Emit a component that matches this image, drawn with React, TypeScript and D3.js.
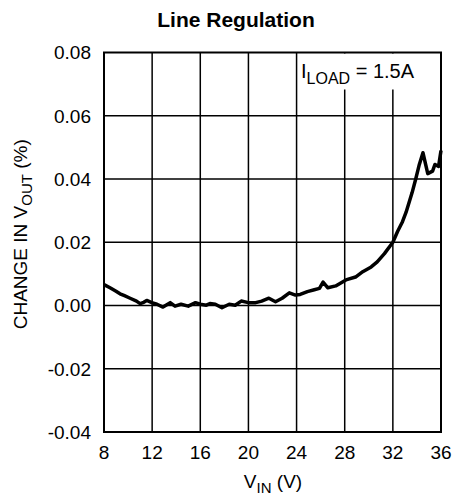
import React from "react";
import * as d3 from "d3";

const vin: number[] = [8.0, 8.5, 9.0, 9.33, 9.7, 10.17, 10.7, 11.0, 11.3, 11.55, 11.97, 12.4, 12.9, 13.5, 13.9, 14.4, 15.0, 15.6, 16.0, 16.5, 16.8, 17.25, 17.8, 18.4, 18.9, 19.4, 20.0, 20.6, 21.1, 21.7, 22.25, 22.8, 23.4, 23.9, 24.3, 24.9, 25.4, 25.9, 26.2, 26.6, 27.25, 28.1, 28.9, 29.5, 30.2, 30.7, 31.3, 31.8, 32.0, 32.4, 32.8, 33.1, 33.6, 33.9, 34.2, 34.5, 34.9, 35.3, 35.5, 35.8, 36.0];
const dvout: number[] = [0.0066, 0.0056, 0.0045, 0.0037, 0.0031, 0.0023, 0.0014, 0.0006, 0.0010, 0.0016, 0.0009, 0.0004, -0.0005, 0.0009, -0.0002, 0.0004, -0.0002, 0.0009, 0.0004, 0.0001, 0.0006, 0.0004, -0.0007, 0.0004, 0.0001, 0.0014, 0.0009, 0.0009, 0.0014, 0.0023, 0.0012, 0.0023, 0.0040, 0.0033, 0.0035, 0.0044, 0.0049, 0.0054, 0.0074, 0.0056, 0.0062, 0.0081, 0.0090, 0.0107, 0.0122, 0.0138, 0.0164, 0.0190, 0.0200, 0.0235, 0.0265, 0.0295, 0.0357, 0.0400, 0.0446, 0.0483, 0.0417, 0.0425, 0.0446, 0.0440, 0.0490];

const xTicks: number[] = [8, 12, 16, 20, 24, 28, 32, 36];
const yTicks: number[] = [-0.04, -0.02, 0.0, 0.02, 0.04, 0.06, 0.08];

const W = 470;
const H = 503;
const L = 104, R = 441, T = 52.5, B = 432;
const FONT = "'Liberation Sans', Arial, Helvetica, sans-serif";

export default function App() {
  const x = d3.scaleLinear().domain([8, 36]).range([L, R]);
  const y = d3.scaleLinear().domain([-0.04, 0.08]).range([B, T]);
  const pts: [number, number][] = vin.map((v, i) => [v, dvout[i]]);
  const line = d3.line<[number, number]>().x(d => x(d[0])).y(d => y(d[1]));

  return (
    <svg width={W} height={H} style={{ position: "absolute", left: 0, top: 0, background: "#fff" }} fontFamily={FONT}>
      <rect x={0} y={0} width={W} height={H} fill="#fff" />
      <text x={236} y={27} textAnchor="middle" fontSize={21} fontWeight="bold">Line Regulation</text>
      {xTicks.slice(1, -1).map(t => (
        <line key={"gx" + t} x1={x(t)} x2={x(t)} y1={T} y2={B} stroke="#000" strokeWidth={1.5} />
      ))}
      {yTicks.slice(1, -1).map(t => (
        <line key={"gy" + t} x1={L} x2={R} y1={y(t)} y2={y(t)} stroke="#000" strokeWidth={1.5} />
      ))}
      <rect x={299} y={T + 1} width={R - 300} height={36} fill="#fff" />
      <text x={301} y={78} fontSize={20}>
        I<tspan fontSize={16} dy={6}>LOAD</tspan><tspan dy={-6}> = 1.5A</tspan>
      </text>
      <rect x={L} y={T} width={R - L} height={B - T} fill="none" stroke="#000" strokeWidth={2} />
      <path d={line(pts) || ""} fill="none" stroke="#000" strokeWidth={3.5} strokeLinejoin="round" />
      {yTicks.map(t => (
        <text key={"yl" + t} x={91} y={y(t)} dy="0.36em" textAnchor="end" fontSize={19}>{t.toFixed(2)}</text>
      ))}
      {xTicks.map(t => (
        <text key={"xl" + t} x={x(t)} y={459} textAnchor="middle" fontSize={19}>{t}</text>
      ))}
      <text x={273} y={488} textAnchor="middle" fontSize={19}>
        V<tspan fontSize={15} dy={5}>IN</tspan><tspan dy={-5}> (V)</tspan>
      </text>
      <text transform={`translate(27, ${(T + B) / 2 - 8}) rotate(-90)`} textAnchor="middle" fontSize={19}>
        CHANGE IN V<tspan fontSize={15} dy={5}>OUT</tspan><tspan dy={-5}> (%)</tspan>
      </text>
    </svg>
  );
}
